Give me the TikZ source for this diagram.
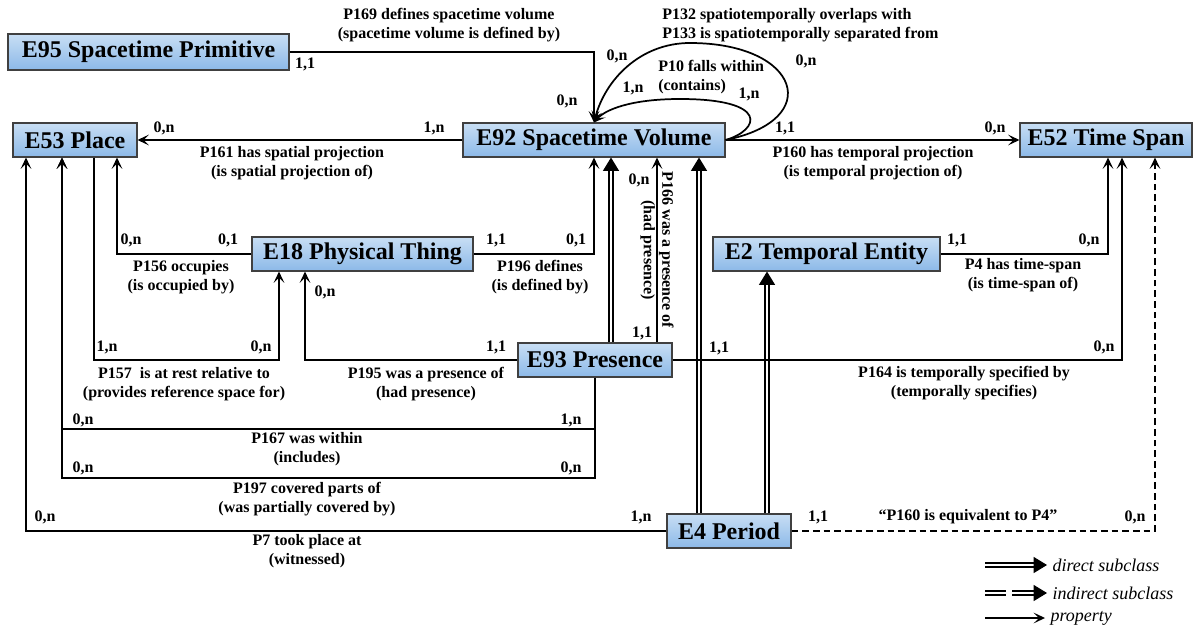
\documentclass[tikz,border=0pt]{standalone}
\usepackage{fontspec}
\setmainfont{Liberation Serif}
\usepackage{tikz}
\usetikzlibrary{positioning, calc, arrows.meta}

\definecolor{boxtop}{RGB}{200,222,244}
\definecolor{boxbot}{RGB}{140,185,232}

\begin{document}
\begin{tikzpicture}[x=0.75pt, y=-0.75pt,
    entity/.style={draw=black!75, line width=0.8pt, top color=boxtop, middle color=white, bottom color=boxbot,
      minimum height=25.5pt, inner sep=0pt, font=\fontsize{18}{21}\selectfont\bfseries},
    prop/.style={-{Stealth[length=8.5pt, width=8pt, inset=4pt]}, line width=1.3pt},
    sub/.style={double, double distance=2.2pt, line width=0.8pt, -{Triangle[length=10pt, width=12pt]}},
    dbl/.style={double, double distance=2.2pt, line width=0.8pt},
    lbl/.style={align=center, inner sep=0pt, font=\fontsize{12}{13.8}\selectfont\bfseries},
    card/.style={inner sep=0pt, font=\fontsize{12}{13.8}\selectfont\bfseries},
    legend/.style={inner sep=0pt, inner xsep=4pt, font=\fontsize{13.5}{16}\selectfont\itshape}
  ]
  \useasboundingbox (0,0) rectangle (1198,628);

  % Classes
  \node[entity, minimum width=210.75pt, minimum height=27pt] (e95) at (148.5,52) {E95 Spacetime Primitive};
  \node[entity, minimum width=93pt] (e53) at (75,140) {E53 Place};
  \node[entity, minimum width=196.5pt] (e92) at (594,140) {E92 Spacetime Volume};
  \node[entity, minimum width=129pt] (e52) at (1106,140) {E52 Time Span};
  \node[entity, minimum width=165.75pt] (e18) at (362.5,254) {E18 Physical Thing};
  \node[entity, minimum width=170.25pt] (e2) at (826.5,254) {E2 Temporal Entity};
  \node[entity, minimum width=115.5pt] (e93) at (595,360) {E93 Presence};
  \node[entity, minimum width=93pt] (e4) at (729,531) {E4 Period};

  % Subclass links (double arrows)
  \draw[sub] ($(e93.north)+(16,0)$) -- ($(e92.south)+(17,0)$);
  \draw[sub] ($(e4.north)+(-30,0)$) -- ($(e92.south)+(105,0)$);
  \draw[sub] ($(e4.north)+(38,0)$) -- ($(e2.south)+(-59.5,0)$);

  % Properties around E92
  \draw[prop] (e95.east) -| (e92.north);
  \draw[prop] (e92.east) .. controls (825,120) and (800,43) .. (690,43) .. controls (640,43) and (605,80) .. (e92.north);
  \draw[prop] (e92.east) .. controls (760,130) and (770,99) .. (680,99) .. controls (630,99) and (605,110) .. (e92.north);
  \draw[prop] (e92.west) -- (e53.east);
  \draw[prop] (e92.east) -- (e52.west);

  % Properties of E18 and E93
  \draw[prop] (e18.west) -| ($(e53.south)+(42,0)$);
  \draw[prop] (e18.east) -| (e92.south);
  \draw[prop] ($(e53.south)+(19,0)$) |- (200,360) -| ($(e18.south)+(-83.5,0)$);
  \draw[prop] (e93.west) -| ($(e18.south)+(-57.5,0)$);
  \draw[prop] ($(e93.north)+(62,0)$) -- node[lbl, rotate=-90] (l166) {P166 was a presence of\\(had presence)} ($(e92.south)+(63,0)$);
  \draw[prop] (e93.south) |- (62,429) -- ($(e53.south)+(-13,0)$);
  \draw[prop] (e93.south) |- (62,478) -- ($(e53.south)+(-13,0)$);
  \draw[prop] (e93.east) -| ($(e52.south)+(16,0)$);

  % Properties of E2 and E4
  \draw[prop] (e2.east) -| ($(e52.south)+(2,0)$);
  \draw[prop] (e4.west) -| ($(e53.south)+(-49,0)$);
  \draw[prop, line width=1.1pt, dash pattern=on 5pt off 3pt] (e4.east) -| ($(e52.south)+(49,0)$);

  % Property labels
  \node[lbl] (l169) at (449,25) {P169 defines spacetime volume\\(spacetime volume is defined by)};
  \node[lbl, anchor=west, align=left] (l132) at (662,25) {P132 spatiotemporally overlaps with\\P133 is spatiotemporally separated from};
  \node[lbl, anchor=west, align=left] (l10) at (658,77) {P10 falls within\\(contains)};
  \node[lbl] (l161) at (292,163) {P161 has spatial projection\\(is spatial projection of)};
  \node[lbl] (l160) at (873,163) {P160 has temporal projection\\(is temporal projection of)};
  \node[lbl] (l156) at (181,277) {P156 occupies\\(is occupied by)};
  \node[lbl] (l196) at (540,277) {P196 defines\\(is defined by)};
  \node[lbl] (l4) at (1023,275) {P4 has time-span\\(is time-span of)};
  \node[lbl] (l157) at (184,384) {P157\ \ is at rest relative to\\(provides reference space for)};
  \node[lbl] (l195) at (426,384) {P195 was a presence of\\(had presence)};
  \node[lbl] (l164) at (964,383) {P164 is temporally specified by\\(temporally specifies)};
  \node[lbl] (l167) at (307,449) {P167 was within\\(includes)};
  \node[lbl] (l197) at (307,499) {P197 covered parts of\\(was partially covered by)};
  \node[lbl] (l7) at (307,551) {P7 took place at\\(witnessed)};
  \node[lbl] (leq) at (968,517) {“P160 is equivalent to P4”};

  % Cardinalities
  \node[card] (k169a) at (305,64) {1,1};
  \node[card] (k169b) at (567,101) {0,n};
  \node[card] (k132a) at (617,56) {0,n};
  \node[card] (k132b) at (806,61) {0,n};
  \node[card] (k10a) at (633,88) {1,n};
  \node[card] (k10b) at (749,94) {1,n};
  \node[card] (k161a) at (434,128) {1,n};
  \node[card] (k161b) at (164,128) {0,n};
  \node[card] (k160a) at (785,128) {1,1};
  \node[card] (k160b) at (995,128) {0,n};
  \node[card] (k156a) at (228,240) {0,1};
  \node[card] (k156b) at (131,240) {0,n};
  \node[card] (k196a) at (496,240) {1,1};
  \node[card] (k196b) at (576,240) {0,1};
  \node[card] (k4a) at (957,240) {1,1};
  \node[card] (k4b) at (1089,240) {0,n};
  \node[card] (k166a) at (639,180) {0,n};
  \node[card] (k166b) at (642,333) {1,1};
  \node[card] (k195a) at (496,347) {1,1};
  \node[card] (k195b) at (325,292) {0,n};
  \node[card] (k157a) at (107,347) {1,n};
  \node[card] (k157b) at (261,347) {0,n};
  \node[card] (k164a) at (719,348) {1,1};
  \node[card] (k164b) at (1104,347) {0,n};
  \node[card] (k167a) at (571,420) {1,n};
  \node[card] (k167b) at (83,420) {0,n};
  \node[card] (k197a) at (571,468) {0,n};
  \node[card] (k197b) at (83,468) {0,n};
  \node[card] (k7a) at (641,517) {1,n};
  \node[card] (k7b) at (45,517) {0,n};
  \node[card] (keqa) at (818,517) {1,1};
  \node[card] (keqb) at (1135,517) {0,n};

  % Legend
  \coordinate (lgd) at (985,565);
  \coordinate (lgi1) at (985,593);
  \coordinate (lgi2) at (1006,593);
  \coordinate (lgi3) at (1012,593);
  \coordinate (lgp) at (985,618);
  \node[legend, anchor=west] (ldirect) at (1047,565) {direct subclass};
  \node[legend, anchor=west] (lindirect) at (1047,593) {indirect subclass};
  \node[legend, anchor=west] (lproperty) at (1045,618) {property};
  \draw[sub] (lgd) -- (ldirect.west);
  \draw[dbl] (lgi1) -- (lgi2);
  \draw[sub] (lgi3) -- (lindirect.west);
  \draw[prop] (lgp) -- (lproperty.west);
\end{tikzpicture}
\end{document}
